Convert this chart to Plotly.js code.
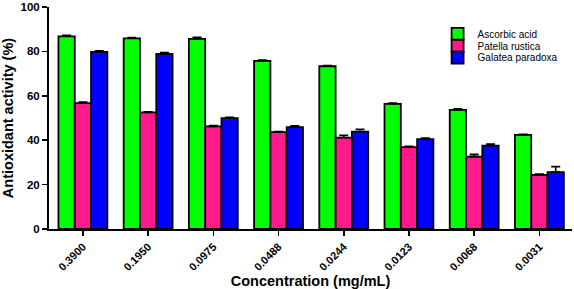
<!DOCTYPE html>
<html>
<head>
<meta charset="utf-8">
<script src="https://cdn.plot.ly/plotly-3.0.1.min.js"></script>
<style>html,body{margin:0;padding:0;background:#fff;}#chart{width:574px;height:289px;}</style>
</head>
<body>
<div id="chart"></div>
<script>
var categories = ["0.3900","0.1950","0.0975","0.0488","0.0244","0.0123","0.0068","0.0031"];
var ascorbic = [86.8, 85.9, 85.6, 75.7, 73.3, 56.4, 53.7, 42.4];
var ascorbicErr = [0.5, 0.3, 0.8, 0.4, 0.3, 0.3, 0.5, 0.3];
var patella = [56.7, 52.5, 46.2, 43.6, 41.2, 36.9, 32.6, 24.4];
var patellaErr = [0.5, 0.3, 0.4, 0.3, 1.0, 0.3, 1.0, 0.4];
var galatea = [79.8, 78.9, 49.9, 45.9, 43.9, 40.5, 37.6, 25.6];
var galateaErr = [0.5, 0.6, 0.4, 0.6, 1.0, 0.5, 0.7, 2.5];

var FONT = 'Arial, Liberation Sans, sans-serif';

function trace(name, y, err, color, legendId){
  return {
    type: 'bar', name: name, x: categories, y: y, legend: legendId,
    marker: {color: color, line: {color: '#000', width: 1.8}},
    error_y: {type: 'data', array: err, arrayminus: err.map(function(){return 0;}), symmetric: false,
              color: '#000', thickness: 1.6, width: 4.5}
  };
}
var data = [
  trace('Ascorbic acid', ascorbic, ascorbicErr, '#00ff00', 'legend'),
  trace('Patella rustica', patella, patellaErr, '#ff1a8c', 'legend2'),
  trace('Galatea paradoxa', galatea, galateaErr, '#0000ff', 'legend3')
];
function legendAt(y){
  return {x: 0.743, y: y, xanchor: 'left', yanchor: 'top', bgcolor: 'rgba(0,0,0,0)',
          font: {size: 10, family: FONT, color: '#000'}, tracegroupgap: 0, itemwidth: 30};
}
var layout = {
  width: 574, height: 289,
  margin: {l: 49, r: 2, t: 7, b: 60},
  paper_bgcolor: '#fff', plot_bgcolor: '#fff',
  barmode: 'group', bargap: 0.25, bargroupgap: 0,
  font: {family: FONT, color: '#000'},
  showlegend: true,
  legend: legendAt(0.944),
  legend2: legendAt(0.8908),
  legend3: legendAt(0.8376),
  xaxis: {
    type: 'category', range: [-0.52, 7.5],
    showline: true, linecolor: '#000', linewidth: 2,
    ticks: 'outside', ticklen: 5, tickwidth: 1.5, tickcolor: '#000',
    tickangle: -45,
    tickfont: {size: 11, family: FONT, weight: 'bold'},
    title: {text: '<b>Concentration (mg/mL)</b>', font: {size: 14.5}, standoff: 4},
    showgrid: false, zeroline: false
  },
  yaxis: {
    range: [0, 100], tickvals: [0,20,40,60,80,100],
    showline: true, linecolor: '#000', linewidth: 2,
    ticks: 'outside', ticklen: 5, tickwidth: 1.5, tickcolor: '#000',
    tickfont: {size: 11.5, family: FONT, weight: 'bold'},
    title: {text: '<b>Antioxidant activity (%)</b>', font: {size: 14.5}, standoff: 6},
    showgrid: false, zeroline: false
  }
};
Plotly.newPlot('chart', data, layout, {displayModeBar: false, staticPlot: true});
</script>
</body>
</html>
